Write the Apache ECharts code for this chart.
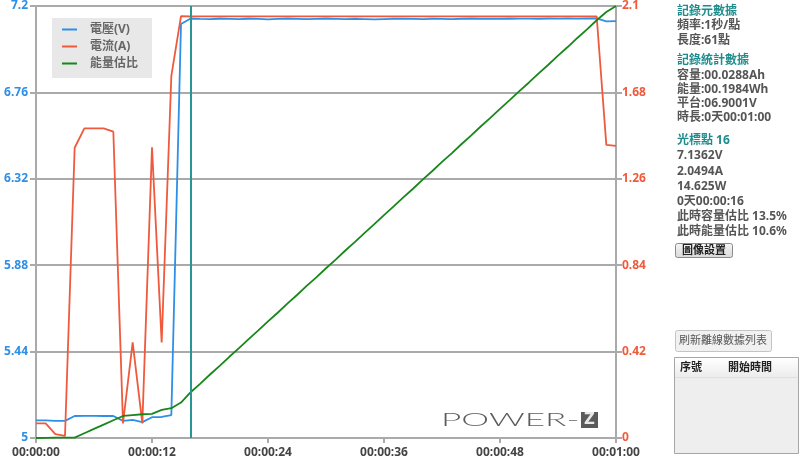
<!DOCTYPE html>
<html>
<head>
<meta charset="utf-8">
<script src="https://cdn.jsdelivr.net/npm/echarts@6/dist/echarts.min.js"></script>
<style>
html,body{margin:0;padding:0;background:#fff;}
#chart{width:800px;height:461px;}
</style>
</head>
<body>
<div id="chart"></div>
<script>
// ---- data (seconds 0..60) ----
const times = [0,1,2,3,4,5,6,7,8,9,10,11,12,13,14,15,16,17,18,19,20,21,22,23,24,25,26,27,28,29,30,31,32,33,34,35,36,37,38,39,40,41,42,43,44,45,46,47,48,49,50,51,52,53,54,55,56,57,58,59,60];
const voltage = [5.090,5.090,5.087,5.087,5.112,5.113,5.113,5.112,5.112,5.087,5.092,5.081,5.106,5.107,5.117,7.108,7.136,
  7.134,7.133,7.135,7.134,7.133,7.135,7.134,7.132,7.134,7.135,7.134,7.133,7.134,7.135,7.134,7.133,7.134,7.133,7.132,
  7.133,7.134,7.135,7.134,7.133,7.134,7.134,7.133,7.135,7.136,7.135,7.135,7.136,7.135,7.136,7.136,7.135,7.136,7.136,
  7.137,7.136,7.136,7.137,7.122,7.123];
const current = [0.071,0.071,0.019,0.010,1.411,1.505,1.505,1.505,1.489,0.071,0.465,0.071,1.413,0.465,1.760,2.051,2.049,
  2.050,2.050,2.049,2.050,2.050,2.049,2.050,2.050,2.050,2.049,2.050,2.050,2.050,2.049,2.050,2.050,2.049,2.050,2.050,
  2.050,2.049,2.050,2.050,2.050,2.049,2.050,2.050,2.050,2.049,2.050,2.050,2.050,2.049,2.050,2.050,2.050,2.049,2.050,
  2.050,2.050,2.049,2.050,1.425,1.420];
const energyRatio = [0,0.05,0.08,0.09,0.1,1.1,2.1,3.1,4.1,5.1,5.3,5.5,5.6,6.5,6.9,8.2,10.6,
  12.6,14.7,16.7,18.8,20.8,22.9,24.9,27.0,29.0,31.1,33.1,35.2,37.2,39.3,41.3,43.4,45.4,47.5,49.5,
  51.6,53.6,55.7,57.7,59.8,61.8,63.9,65.9,68.0,70.0,72.1,74.1,76.2,78.2,80.3,82.3,84.4,86.4,88.5,
  90.5,92.6,94.6,96.7,98.6,100];
const cursorTime = 16;
const xTickLabels = ['00:00:00','00:00:12','00:00:24','00:00:36','00:00:48','00:01:00'];
const leftTickLabels = ['5','5.44','5.88','6.32','6.76','7.2'];
const rightTickLabels = ['0','0.42','0.84','1.26','1.68','2.1'];
const seriesNames = ['電壓(V)','電流(A)','能量估比'];
const panelMeta = ['記錄元數據','頻率:1秒/點','長度:61點'];
const panelStats = ['記錄統計數據','容量:00.0288Ah','能量:00.1984Wh','平台:06.9001V','時長:0天00:01:00'];
const panelCursor = ['光標點 16','7.1362V','2.0494A','14.625W','0天00:00:16','此時容量估比 13.5%','此時能量估比 10.6%'];

// ---- styles ----
const FONT = '"Noto Sans","Noto Sans CJK TC",sans-serif';
const C_BLUE = '#2e8fe6', C_RED = '#f05a3c', C_GREEN = '#18871a', C_TEAL = '#2a9595';
const GRID_GREY = '#aaaaaa';

const pairs = arr => times.map((t, i) => [t, arr[i]]);

function panelText(lines, ys, headColor) {
  return lines.map((s, i) => ({
    type: 'text', x: 677, y: ys[i],
    style: { text: s, fill: i === 0 ? headColor : '#555555', fontSize: 12, fontWeight: 'bold',
      fontFamily: FONT, verticalAlign: 'middle', align: 'left' },
    silent: true
  }));
}

const chart = echarts.init(document.getElementById('chart'), null, { renderer: 'canvas' });
const option = {
  animation: false,
  backgroundColor: '#ffffff',
  grid: { left: 36, right: 184, top: 6, bottom: 23, containLabel: false },
  legend: {
    orient: 'vertical', left: 52, top: 18,
    backgroundColor: '#e8e8e8', padding: [3, 14, 6, 10], itemGap: 0,
    icon: 'rect', itemWidth: 15, itemHeight: 2,
    textStyle: { color: '#666', fontSize: 12, fontWeight: 'bold', fontFamily: FONT, lineHeight: 17, padding: [0, 0, 0, 8] },
    data: seriesNames
  },
  xAxis: {
    type: 'value', min: 0, max: 60, interval: 12,
    axisLine: { show: true, lineStyle: { color: GRID_GREY, width: 2 } },
    axisTick: { show: true, length: 5, lineStyle: { color: GRID_GREY, width: 2 } },
    splitLine: { show: false },
    axisLabel: { color: '#444', fontSize: 12, fontWeight: 'bold', fontFamily: FONT, margin: 9,
      formatter: v => xTickLabels[Math.round(v / 12)] }
  },
  yAxis: [
    {
      type: 'value', min: 5, max: 7.2, interval: 0.44, position: 'left',
      axisLine: { show: true, lineStyle: { color: GRID_GREY, width: 2 } },
      axisTick: { show: true, length: 6, lineStyle: { color: GRID_GREY, width: 2 } },
      splitLine: { show: true, lineStyle: { color: GRID_GREY, width: 2 } },
      axisLabel: { color: C_BLUE, fontSize: 12, fontWeight: 'bold', fontFamily: FONT, margin: 8,
        formatter: v => leftTickLabels[Math.round((v - 5) / 0.44)] }
    },
    {
      type: 'value', min: 0, max: 2.1, interval: 0.42, position: 'right',
      axisLine: { show: true, lineStyle: { color: GRID_GREY, width: 2 } },
      axisTick: { show: true, length: 6, lineStyle: { color: GRID_GREY, width: 2 } },
      splitLine: { show: false },
      axisLabel: { color: C_RED, fontSize: 12, fontWeight: 'bold', fontFamily: FONT, margin: 6,
        formatter: v => rightTickLabels[Math.round(v / 0.42)] }
    },
    { type: 'value', min: 0, max: 100, show: false }
  ],
  series: [
    {
      name: seriesNames[0], type: 'line', yAxisIndex: 0, data: pairs(voltage),
      showSymbol: false, symbol: 'none', lineStyle: { color: C_BLUE, width: 1.8 }, itemStyle: { color: C_BLUE },
      markLine: {
        silent: true, symbol: ['none', 'none'], label: { show: false },
        lineStyle: { color: C_TEAL, width: 2, type: 'solid' },
        data: [{ xAxis: cursorTime }]
      }
    },
    {
      name: seriesNames[1], type: 'line', yAxisIndex: 1, data: pairs(current),
      showSymbol: false, symbol: 'none', lineStyle: { color: C_RED, width: 1.8 }, itemStyle: { color: C_RED }
    },
    {
      name: seriesNames[2], type: 'line', yAxisIndex: 2, data: pairs(energyRatio),
      showSymbol: false, symbol: 'none', lineStyle: { color: C_GREEN, width: 1.8 }, itemStyle: { color: C_GREEN }
    }
  ],
  graphic: [].concat(
    panelText(panelMeta, [12, 26, 41], '#1e8c8c'),
    panelText(panelStats, [61, 76, 90, 104, 118], '#1e8c8c'),
    panelText(panelCursor, [141, 156, 172, 187, 202, 217, 232], '#1e8c8c'),
    [
      // 圖像設置 button
      { type: 'rect', shape: { x: 675.5, y: 243.5, width: 57, height: 14, r: 2 },
        style: { fill: new echarts.graphic.LinearGradient(0, 0, 0, 1, [{ offset: 0, color: '#f6f6f6' }, { offset: 1, color: '#d8d8d8' }]),
          stroke: '#8a8a8a', lineWidth: 1 }, silent: true },
      { type: 'text', x: 704, y: 250.5,
        style: { text: '圖像設置', fill: '#222', fontSize: 11, fontWeight: 'bold', fontFamily: FONT, align: 'center', verticalAlign: 'middle' }, silent: true },
      // 刷新離線數據列表 button
      { type: 'rect', shape: { x: 675.5, y: 330.5, width: 96, height: 21, r: 2 },
        style: { fill: '#f1f1f1', stroke: '#c4c4c4', lineWidth: 1 }, silent: true },
      { type: 'text', x: 723, y: 341,
        style: { text: '刷新離線數據列表', fill: '#555', fontSize: 11, fontFamily: FONT, align: 'center', verticalAlign: 'middle' }, silent: true },
      // table
      { type: 'rect', shape: { x: 674.5, y: 357.5, width: 124, height: 96 },
        style: { fill: '#eeeeee', stroke: '#a6a6a6', lineWidth: 1 }, silent: true },
      { type: 'rect', shape: { x: 675, y: 358, width: 123, height: 19 },
        style: { fill: new echarts.graphic.LinearGradient(0, 0, 0, 1, [{ offset: 0, color: '#ffffff' }, { offset: 1, color: '#ececec' }]) }, silent: true },
      { type: 'line', shape: { x1: 675, y1: 377.5, x2: 798, y2: 377.5 }, style: { stroke: '#e0e0e0', lineWidth: 1 }, silent: true },
      { type: 'text', x: 680, y: 368,
        style: { text: '序號', fill: '#222', fontSize: 11, fontWeight: 'bold', fontFamily: FONT, align: 'left', verticalAlign: 'middle' }, silent: true },
      { type: 'text', x: 750, y: 368,
        style: { text: '開始時間', fill: '#222', fontSize: 11, fontWeight: 'bold', fontFamily: FONT, align: 'center', verticalAlign: 'middle' }, silent: true },
      // POWER-Z logo
      { type: 'text', x: 441, y: 420.5, scaleX: 1.85, scaleY: 0.95,
        style: { text: 'POWER-', fill: '#5c5c5c', fontSize: 19, fontWeight: 300, fontFamily: 'Lato, "DejaVu Sans", sans-serif', align: 'left', verticalAlign: 'middle' }, silent: true },
      { type: 'rect', shape: { x: 581, y: 412, width: 17, height: 16 }, style: { fill: '#5a5a5a' }, silent: true },
      { type: 'text', x: 589.5, y: 420.5,
        style: { text: 'Z', fill: '#e8e8e8', fontSize: 15, fontWeight: 'bold', fontFamily: '"DejaVu Sans", sans-serif', align: 'center', verticalAlign: 'middle' }, silent: true }
    ]
  )
};
chart.setOption(option);
</script>
</body>
</html>
